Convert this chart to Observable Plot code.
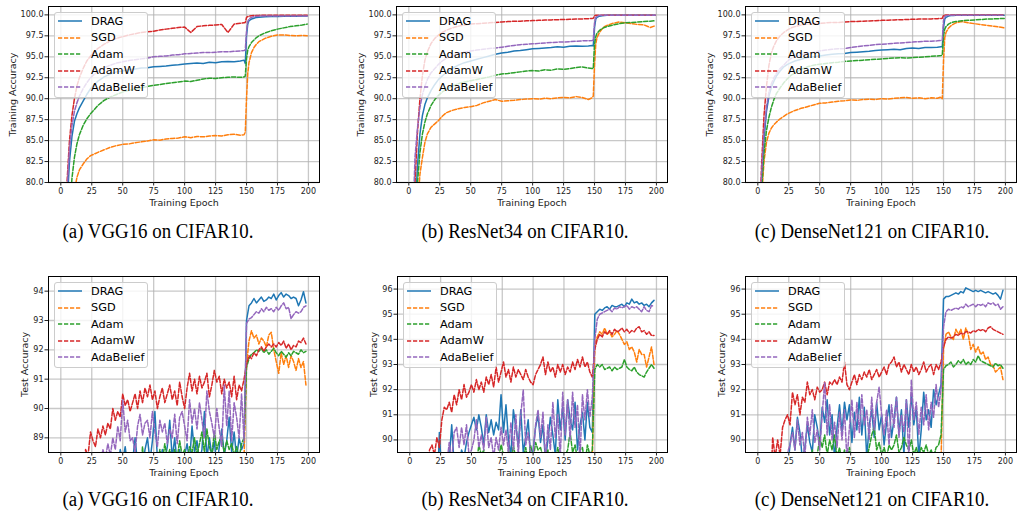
<!DOCTYPE html>
<html>
<head>
<meta charset="utf-8">
<script src="https://cdn.jsdelivr.net/npm/d3@7"></script>
<script src="https://cdn.jsdelivr.net/npm/@observablehq/plot@0.6"></script>
<style>
body{margin:0;background:#fff}
#root{position:relative;width:1026px;height:512px;overflow:hidden;background:#fff}
.panel{position:absolute;width:342px;height:210px}
.panel svg{display:block}
.legend{position:absolute;box-sizing:border-box;background:rgba(255,255,255,0.8);border:1px solid #cccccc;border-radius:3px;font-family:"DejaVu Sans";font-size:11.3px;color:#000}
.row{position:absolute;left:0;height:16px;display:flex;align-items:center;white-space:nowrap}
.row svg{margin-left:3px}
.row span{margin-left:9px}
.cap{position:absolute;width:420px;text-align:center;font-family:"Liberation Serif",serif;font-size:20.5px;line-height:22px;color:#000;white-space:nowrap;transform:scaleX(0.92);transform-origin:50% 50%}
</style>
</head>
<body>
<div id="root"></div>
<script>
// ---------- shared categories / ticks ----------
const seriesNames = ["DRAG", "SGD", "Adam", "AdamW", "AdaBelief"];
const xTicks = [0, 25, 50, 75, 100, 125, 150, 175, 200];
const trainYTicks = [80, 82.5, 85, 87.5, 90, 92.5, 95, 97.5, 100];
const vggTestYTicks = [89, 90, 91, 92, 93, 94];
const resTestYTicks = [90, 91, 92, 93, 94, 95, 96];
const captions = ["(a) VGG16 on CIFAR10.", "(b) ResNet34 on CIFAR10.", "(c) DenseNet121 on CIFAR10."];

const trainEpochs = [0,3,5,7,9,11,13,15, 18,21,24,27,30,
  35,40,45,50,55,60,65,70,75,80,85,90,95,100,105,110,115,120,125,130,135,140,145,
  148,149,150,151,152, 154,156,158,160, 165,170,175,180,185,190,195, 199];

const testEpochs = [10,12,14,16,18,20,22,24,26,28,
  30,32,34,36,38,40,42,44,46,48,
  50,52,54,56,58,60,62,64,66,68,
  70,72,74,76,78,80,82,84,86,88,
  90,92,94,96,98,100,102,104,106,108,
  110,112,114,116,118,120,122,124,126,128,
  130,132,134,136,138,140,142,144,146,148,
  150,152,154,156,158,160,162,164,166,168,
  170,172,174,176,178,180,182,184,186,188,
  190,192,194,196,198];

// ---------- VGG16 training accuracy ----------
const vggTrainDRAG = [60,70,77,82.5,85.5,87.3,88.2,88.9, 89.7,90.5,91.2,91.7,92.1,
  92.6,92.95,93.2,93.3,93.45,93.55,93.65,93.7,93.8,93.85,93.9,94.0,94.05,94.15,94.2,94.25,94.2,94.35,94.3,94.4,94.45,94.4,94.5,
  94.6,94.2,97.5,98.9,99.3, 99.5,99.6,99.7,99.72, 99.78,99.8,99.82,99.83,99.85,99.85,99.86, 99.86];
const vggTrainSGD = [50,60,67,72,76,79,80.6,81.5, 82.2,82.8,83.2,83.4,83.6,
  83.9,84.2,84.4,84.55,84.6,84.75,84.85,84.95,85.1,85.05,85.2,85.25,85.3,85.45,85.35,85.5,85.45,85.55,85.6,85.55,85.7,85.75,85.65,
  85.7,86.0,90.0,93.0,94.3, 95.5,96.1,96.5,96.8, 97.2,97.45,97.6,97.6,97.55,97.5,97.55, 97.5];
const vggTrainAdam = [55,65,71,76,80.5,83,84.6,85.7, 86.8,87.6,88.2,88.7,89.2,
  89.8,90.2,90.5,90.8,91.0,91.15,91.3,91.45,91.6,91.7,91.8,91.9,92.0,92.1,92.05,92.2,92.35,92.45,92.4,92.5,92.55,92.6,92.55,
  92.6,92.7,94.8,95.8,96.2, 96.7,97.0,97.3,97.5, 97.85,98.1,98.3,98.45,98.6,98.7,98.8, 98.9];
const vggTrainAdamW = [58,72,80,85,88,90,91.5,92.5, 93.6,94.5,95.1,95.6,96.0,
  96.5,96.9,97.2,97.4,97.6,97.75,97.9,98.0,98.05,98.2,98.3,98.4,98.5,98.55,97.9,98.6,98.7,98.75,98.8,98.85,97.9,98.9,99.0,
  99.05,99.1,99.7,99.8,99.85, 99.9,99.92,99.93,99.94, 99.95,99.95,99.95,99.95,99.95,99.95,99.95, 99.95];
const vggTrainAdaBelief = [58,70,79,84,86.8,88.5,89.5,90.3, 91.2,91.9,92.5,92.9,93.3,
  93.7,94.0,94.25,94.4,94.55,94.65,94.75,94.85,95.0,95.05,95.1,95.2,95.25,95.35,95.4,95.45,95.5,95.5,95.55,95.6,95.6,95.65,95.7,
  95.75,95.8,98.0,99.2,99.5, 99.7,99.8,99.83,99.85, 99.87,99.88,99.88,99.88,99.88,99.88,99.88, 99.88];

// ---------- ResNet34 training accuracy ----------
const resTrainDRAG = [55,68,76,82,85.8,88.0,89.3,90.1, 91.0,91.7,92.3,92.7,93.1,
  93.6,94.0,94.3,94.5,94.7,94.9,95.1,95.3,95.45,95.55,95.7,95.75,95.85,95.95,96.0,96.05,96.1,96.2,96.15,96.25,96.3,96.25,96.3,
  96.35,96.3,98.5,99.5,99.7, 99.85,99.9,99.93,99.95, 99.96,99.96,99.96,99.96,99.96,99.96,99.96, 99.96];
const resTrainSGD = [45,60,70,77,81,83,84.8,85.8, 86.6,87.0,87.4,87.9,88.3,
  88.6,88.8,88.95,89.05,89.2,89.5,89.7,89.9,89.7,89.75,89.8,89.9,89.95,90.0,89.95,90.05,90.0,90.1,90.15,90.1,90.25,90.15,89.9,
  90.1,90.3,94.0,96.5,97.3, 97.9,98.3,98.6,98.75, 99.0,99.15,99.05,98.95,98.85,98.8,98.5, 98.7];
const resTrainAdam = [50,65,74,80,83.6,85.8,87.2,88.2, 89.2,89.9,90.4,90.8,91.1,
  91.5,91.8,92.0,92.15,92.3,92.45,92.6,92.8,92.95,93.0,93.1,93.2,93.3,93.35,93.3,93.45,93.4,93.55,93.5,93.6,93.7,93.8,93.65,
  93.6,93.6,96.5,97.4,97.8, 98.15,98.35,98.5,98.6, 98.8,98.95,99.05,99.1,99.15,99.2,99.25, 99.3];
const resTrainAdamW = [60,75,80,86,90,92.8,94.6,95.6, 96.6,97.2,97.6,97.9,98.15,
  98.45,98.65,98.8,98.9,98.95,99.0,99.05,99.1,99.15,99.2,99.25,99.25,99.3,99.32,99.35,99.38,99.4,99.42,99.45,99.47,99.5,99.52,99.55,
  99.58,99.6,99.9,99.95,99.96, 99.97,99.97,99.97,99.97, 99.97,99.97,99.97,99.97,99.97,99.97,99.97, 99.97];
const resTrainAdaBelief = [58,74,83,86.5,89,90.5,91.5,92.3, 93.1,93.6,94.1,94.5,94.8,
  95.1,95.4,95.55,95.7,95.8,95.9,96.0,96.05,96.15,96.25,96.35,96.45,96.5,96.55,96.6,96.65,96.7,96.75,96.75,96.8,96.85,96.9,96.9,
  96.95,97.0,99.0,99.7,99.85, 99.93,99.95,99.96,99.96, 99.96,99.96,99.96,99.96,99.96,99.96,99.96, 99.96];

// ---------- DenseNet121 training accuracy ----------
const denseTrainDRAG = [65,80,85,88.5,90.3,91.4,92.1,92.7, 93.3,93.8,94.1,94.3,94.5,
  94.7,94.9,95.0,95.1,95.2,95.3,95.35,95.4,95.5,95.55,95.6,95.65,95.75,95.8,95.85,95.9,95.85,96.0,96.05,96.0,96.1,96.1,96.15,
  96.2,96.2,98.5,99.5,99.7, 99.85,99.92,99.94,99.95, 99.96,99.96,99.96,99.96,99.96,99.96,99.96, 99.96];
const denseTrainSGD = [60,78,82.5,84.8,85.9,86.5,86.9,87.2, 87.6,87.9,88.2,88.4,88.6,
  88.85,89.05,89.25,89.45,89.5,89.6,89.7,89.75,89.85,89.8,89.9,89.95,89.9,90.0,89.95,90.05,90.1,90.15,90.05,90.1,90.0,90.1,90.05,
  90.2,90.0,94.5,97.3,97.9, 98.4,98.7,98.9,99.05, 99.2,99.05,98.95,98.85,98.75,98.65,98.55, 98.45];
const denseTrainAdam = [62,79,83.5,86.2,87.8,89.0,89.9,90.6, 91.3,91.9,92.4,92.8,93.1,
  93.5,93.8,94.0,94.1,94.2,94.3,94.35,94.45,94.5,94.55,94.6,94.65,94.7,94.75,94.8,94.85,94.9,94.85,94.9,94.95,95.0,95.05,95.1,
  95.15,95.2,97.5,98.3,98.6, 98.9,99.05,99.15,99.2, 99.3,99.35,99.4,99.45,99.5,99.52,99.55, 99.58];
const denseTrainAdamW = [68,82,88,91.5,94.0,95.5,96.3,96.9, 97.5,97.9,98.2,98.45,98.6,
  98.8,98.9,98.95,99.0,99.05,99.1,99.1,99.15,99.2,99.22,99.25,99.28,99.3,99.35,99.37,99.4,99.42,99.45,99.47,99.5,99.5,99.52,99.55,
  99.57,99.6,99.95,99.97,99.98, 99.98,99.98,99.98,99.98, 99.98,99.98,99.98,99.98,99.98,99.98,99.98, 99.98];
const denseTrainAdaBelief = [66,81,86,89,90.8,91.8,92.5,93.0, 93.6,94.0,94.5,94.8,95.0,
  95.25,95.4,95.55,95.7,95.8,95.9,95.95,96.0,96.1,96.2,96.3,96.35,96.45,96.5,96.55,96.6,96.65,96.7,96.75,96.8,96.85,96.85,96.9,
  96.95,97.0,99.3,99.8,99.9, 99.95,99.96,99.97,99.97, 99.97,99.97,99.97,99.97,99.97,99.97,99.97, 99.97];

// ---------- VGG16 test accuracy ----------
const vggTestDRAG = [84,85,85.5,86,86.5,86.8,87,87.2,87.4,87.5,
  87.6,87.8,87.7,88.0,87.9,88.1,87.9,88.2,88.0,88.6,
  88.2,88.7,88.0,88.3,88.2,89.0,88.1,88.4,88.0,88.6,
  89.0,88.2,88.9,89.9,88.3,88.1,88.6,88.2,88.7,89.6,
  88.3,89.0,88.1,88.6,88.0,88.4,88.8,88.2,89.4,88.5,
  88.9,88.2,88.6,89.9,88.3,89.0,88.4,88.9,88.0,88.7,
  89.3,88.4,88.9,89.7,88.5,89.2,88.3,89.0,88.6,88.8,
  93.0,93.5,93.6,93.75,93.6,93.7,93.8,93.65,93.7,93.8,
  93.75,93.9,93.7,93.85,93.95,93.8,93.9,93.85,93.75,93.8,
  93.75,93.5,93.7,93.98,93.6];
const vggTestSGD = [78.5,79.4,80.1,80.9,81.5,82.0,82.6,82.9,83.4,83.6,
  84.0,84.3,84.1,84.6,84.9,84.7,85.1,85.3,85.0,85.4,
  85.6,85.3,85.8,85.9,85.6,86.1,86.0,86.3,85.9,86.4,
  86.2,86.5,86.7,86.4,86.8,86.6,87.0,86.8,87.1,86.9,
  87.2,87.0,87.4,87.1,87.3,87.5,87.2,87.6,87.4,87.7,
  87.5,87.8,87.6,87.9,87.7,88.0,87.8,88.1,87.9,88.0,
  88.2,87.9,88.1,88.3,88.0,88.2,88.3,88.1,88.2,88.3,
  91.5,92.3,92.65,92.4,92.5,92.2,92.4,92.3,92.1,92.5,
  92.6,92.0,91.6,91.2,91.9,91.5,91.8,91.4,91.8,91.6,
  91.3,91.7,91.4,91.6,90.8];
const vggTestAdam = [80,81,82,82.5,83,83.5,84,84.3,84.6,84.9,
  85.1,85.3,85.5,85.7,85.9,86.0,86.2,86.3,86.5,86.6,
  86.8,86.9,87.1,87.0,87.3,87.2,87.5,87.4,88.7,87.6,
  87.7,87.9,87.8,88.0,88.1,88.6,88.2,88.8,88.3,88.6,
  88.2,88.6,88.3,88.9,88.4,88.6,88.2,88.7,88.5,89.0,
  88.4,88.8,89.2,88.5,89.3,88.7,88.4,89.2,88.6,88.9,
  89.0,88.5,88.9,88.6,88.8,88.4,88.7,88.3,88.8,89.0,
  91.4,91.7,91.85,91.9,92.0,91.95,92.05,91.9,92.0,91.85,
  91.95,92.05,91.9,91.8,91.95,91.85,91.75,91.9,91.8,91.95,
  91.9,91.85,92.0,91.9,91.95];
const vggTestAdamW = [84.5,85.5,86.3,87.0,87.6,88.6,88.4,89.2,88.9,88.7,
  89.3,89.0,89.4,89.1,89.5,89.3,90.0,89.6,89.9,89.7,
  90.5,90.1,90.3,89.9,90.2,90.5,90.0,90.6,90.2,90.7,
  90.4,90.8,90.3,90.6,90.0,90.4,90.7,90.2,90.5,90.8,
  90.3,90.6,90.1,90.9,90.4,90.0,90.7,91.2,90.6,91.0,
  90.5,91.1,90.7,90.9,91.2,90.4,90.8,91.3,90.9,91.1,
  90.5,91.0,90.7,90.9,90.4,91.1,90.3,90.8,90.6,91.0,
  91.5,91.8,91.7,91.9,91.8,92.0,92.1,91.95,92.1,92.2,
  92.1,92.2,92.1,92.25,92.15,92.3,92.05,92.2,92.0,92.15,
  92.1,92.3,92.25,92.4,92.2];
const vggTestAdaBelief = [83,84,84.8,85.5,86.0,86.5,86.9,87.2,87.5,87.7,
  87.9,88.1,88.6,88.3,88.8,88.4,89.0,88.6,89.4,88.9,
  90.3,89.2,89.6,88.9,89.0,88.5,89.4,89.8,89.1,89.5,
  89.6,89.0,89.9,89.2,88.7,89.6,89.2,89.5,88.8,89.3,
  89.0,89.8,88.8,89.7,89.9,89.4,88.9,90.3,89.5,90.0,
  89.3,90.2,89.6,89.0,90.6,89.9,89.5,89.0,90.0,89.3,
  88.7,90.8,89.4,90.6,88.9,90.2,89.7,89.0,90.5,88.9,
  92.9,93.05,93.1,93.2,93.3,93.25,93.4,93.3,93.45,93.35,
  93.4,93.3,93.45,93.35,93.5,93.6,93.4,93.45,93.06,93.2,
  93.3,93.25,93.3,93.45,93.5];

// ---------- ResNet34 test accuracy ----------
const resTestDRAG = [80,82,83.5,84.5,85.5,86.5,87.5,90.3,88.5,89.0,
  88.8,89.2,90.6,89.0,89.4,88.9,89.6,89.3,89.9,90.3,
  90.6,90.9,90.4,91.0,90.5,89.8,91.0,90.3,90.8,90.2,
  90.7,90.4,91.8,90.3,91.4,90.0,89.4,91.2,90.5,89.8,
  91.2,89.5,90.1,90.8,89.3,89.6,90.5,91.0,89.9,90.6,
  89.2,90.0,90.9,90.2,89.4,91.6,90.4,91.3,90.0,91.6,
  90.8,90.4,91.5,89.6,90.6,91.1,90.0,91.5,90.5,90.3,
  95.0,95.1,95.2,95.15,95.25,95.3,95.2,95.35,95.3,95.3,
  95.35,95.4,95.3,95.45,95.4,95.6,95.45,95.5,95.4,95.45,
  95.35,95.4,95.3,95.45,95.55];
const resTestSGD = [79,80,81,82,82.8,83.5,84,84.6,85,85.3,
  85.7,86,86.2,86.5,86.7,86.9,87.1,87.0,87.3,87.5,
  87.6,87.4,87.8,87.9,87.7,88.0,88.1,87.9,88.2,88.3,
  88.1,88.4,88.3,88.5,88.4,88.6,88.5,88.7,88.6,88.8,
  88.7,88.9,88.6,88.8,89.0,88.8,88.9,89.1,88.9,89.0,
  89.1,88.9,89.2,89.0,89.1,89.3,89.0,89.2,89.1,89.3,
  89.2,89.0,89.3,89.1,89.2,89.0,89.3,89.2,89.1,89.3,
  93.8,94.1,94.3,94.2,94.45,94.2,94.3,94.1,94.2,94.35,
  94.2,94.0,93.8,93.9,93.6,93.7,93.5,93.1,93.6,93.4,
  93.4,92.9,93.3,93.7,93.0];
const resTestAdam = [80,81.5,82.5,83.5,84.3,85,85.6,86.1,86.5,86.9,
  87.2,87.5,87.8,88.0,88.2,88.4,88.6,88.8,88.7,89.0,
  88.9,89.2,89.0,89.8,89.4,89.6,89.1,89.3,89.0,89.2,
  88.8,89.3,89.8,89.4,89.1,89.6,89.0,89.8,89.2,89.4,
  89.0,89.3,89.7,89.1,89.8,89.2,89.9,89.6,89.7,89.3,
  89.4,89.6,89.0,89.5,89.2,89.7,89.3,89.1,89.4,89.6,
  90.3,89.5,89.8,89.2,89.6,89.7,89.0,89.8,89.4,89.6,
  92.8,93.0,92.9,93.0,92.8,92.85,92.9,92.75,92.9,92.8,
  92.85,92.9,93.2,92.9,92.8,92.75,92.9,92.7,92.6,92.55,
  92.5,92.7,92.85,93.0,92.85];
const resTestAdamW = [86,87.5,88.5,89.6,89.8,89.4,90.1,89.7,90.8,91.3,
  91.2,91.5,91.1,91.8,91.4,92.0,91.6,92.2,91.7,91.9,
  92.2,91.9,92.4,92.0,92.3,91.9,92.5,92.2,92.6,92.1,
  92.9,92.3,92.7,93.1,92.5,92.8,92.3,92.9,92.5,92.8,
  92.6,92.4,92.8,92.5,92.3,92.2,92.6,92.8,93.0,93.3,
  92.6,93.1,92.7,92.9,92.5,93.0,92.7,93.0,92.6,92.9,
  92.7,93.1,92.8,93.2,92.9,93.3,92.9,93.1,92.7,92.5,
  93.6,94.0,94.2,94.1,94.3,94.2,94.35,94.2,94.4,94.3,
  94.35,94.45,94.3,94.4,94.25,94.35,94.3,94.45,94.5,94.3,
  94.35,94.2,94.3,94.15,94.15];
const resTestAdaBelief = [82,83.5,84.5,85.5,86.3,87,87.6,88.1,88.5,88.8,
  89.0,89.9,89.2,90.3,90.5,89.7,90.5,89.8,90.6,89.4,
  89.6,90.0,90.8,89.7,90.2,89.6,90.9,89.7,90.1,89.3,
  90.1,89.6,90.5,89.8,90.4,89.5,90.7,89.6,91.0,89.4,
  91.0,92.0,89.8,90.3,89.5,89.4,90.6,91.2,90.1,91.1,
  89.2,90.6,89.6,91.5,90.1,91.0,89.3,91.9,90.2,91.6,
  90.0,91.9,90.5,91.4,89.2,91.8,90.8,92.0,90.9,91.7,
  94.0,94.8,95.0,95.05,95.1,95.15,95.2,95.1,95.25,95.2,
  95.3,95.25,95.3,95.35,95.2,95.3,95.25,95.3,95.2,95.1,
  95.3,95.15,95.1,95.35,95.3];

// ---------- DenseNet121 test accuracy ----------
const denseTestDRAG = [80,82,83.5,85,86.5,87.5,88.2,88.8,89.8,90.5,
  89.6,90.9,90.3,89.2,89.7,90.6,89.9,89.5,91.0,90.5,
  89.8,91.3,90.7,91.6,90.2,91.0,89.2,90.5,91.4,90.3,
  91.5,90.8,91.4,89.9,91.1,90.4,91.7,90.2,91.3,89.3,
  90.6,91.2,90.1,91.5,90.4,91.0,89.8,90.7,91.4,90.1,
  90.8,91.7,90.3,91.2,89.4,91.6,90.5,91.8,90.6,91.3,
  89.3,90.4,91.9,90.8,91.2,90.5,92.0,91.4,91.8,92.2,
  95.6,95.7,95.7,95.75,95.8,95.85,95.8,95.9,95.85,96.05,
  96.0,95.95,95.9,95.95,95.9,95.95,95.9,95.85,95.9,95.85,
  95.8,95.85,95.75,95.6,95.95];
const denseTestSGD = [79.5,80.5,81.5,82.4,83.2,83.9,84.5,85.0,85.4,85.8,
  86.1,86.4,86.6,86.9,87.1,87.3,87.5,87.4,87.7,87.9,
  88.0,87.8,88.2,88.3,88.1,88.4,88.5,88.3,88.6,88.7,
  88.5,88.8,88.7,88.9,88.8,89.0,88.9,89.1,89.0,89.2,
  89.1,88.9,89.2,89.0,89.3,89.1,89.2,89.0,89.3,89.2,
  89.0,89.3,89.1,89.2,89.3,89.1,89.0,89.2,89.3,89.1,
  89.2,89.3,89.0,89.2,89.1,89.3,89.2,89.0,89.3,89.2,
  93.6,94.2,94.3,94.1,94.0,94.4,94.2,94.4,94.0,94.45,
  94.2,93.6,93.8,93.5,93.7,93.4,93.5,93.2,93.3,93.0,
  92.95,92.7,92.8,92.9,92.4];
const denseTestAdam = [80,81.5,82.8,83.8,84.6,85.3,86.0,86.6,87.1,87.5,
  87.9,88.3,88.6,88.5,88.9,89.1,88.9,89.6,89.2,89.4,
  90.1,89.7,90.2,89.4,90.0,89.6,90.2,89.3,89.7,89.1,
  89.6,89.2,89.7,89.0,89.4,88.9,89.2,89.5,89.0,89.3,
  89.7,90.2,90.5,89.6,89.9,89.4,89.7,89.3,89.8,89.6,
  89.8,90.2,89.5,89.7,90.1,89.8,89.6,90.0,89.4,89.7,
  89.3,89.7,89.5,89.8,89.4,89.6,89.3,89.7,89.8,90.2,
  92.8,92.95,93.0,93.1,92.9,93.0,93.15,93.05,93.2,93.0,
  93.1,93.0,93.2,93.1,93.35,93.15,93.1,93.05,93.0,92.95,
  92.9,93.05,92.95,93.0,92.85];
const denseTestAdamW = [87.5,90.1,89.3,90.0,89.4,90.5,90.8,91.0,90.6,91.9,
  91.4,91.8,91.0,91.7,91.5,92.3,91.8,92.0,91.6,92.1,
  91.9,92.0,92.3,91.8,92.3,92.2,92.4,92.2,92.5,92.3,
  93.1,92.2,92.0,92.3,92.6,92.2,92.6,92.4,92.7,92.5,
  92.8,92.4,92.6,92.8,92.5,92.7,92.9,92.6,93.0,93.1,
  93.3,92.9,93.1,92.7,93.0,92.8,92.6,93.0,92.7,92.9,
  92.6,92.8,93.1,92.7,92.9,93.0,92.6,93.0,92.8,93.1,
  93.7,94.0,94.1,94.05,94.1,94.2,94.15,94.25,94.2,94.3,
  94.3,94.25,94.35,94.3,94.4,94.35,94.4,94.3,94.45,94.5,
  94.4,94.35,94.3,94.25,94.2];
const denseTestAdaBelief = [82,84,85.5,86.8,87.8,88.5,89.0,89.5,89.8,90.3,
  89.6,90.8,89.8,90.3,89.3,90.9,90.2,91.2,89.9,90.4,
  89.6,91.0,92.3,90.2,91.4,90.0,90.7,89.7,91.1,90.0,
  91.2,89.2,90.5,91.6,90.1,91.5,90.3,91.8,90.6,91.2,
  90.0,91.7,90.4,91.5,92.1,91.0,90.2,91.2,89.8,91.4,
  90.5,91.7,90.1,91.0,90.3,91.6,89.2,92.4,90.8,91.5,
  90.2,91.3,90.6,91.8,90.4,91.5,90.9,92.2,91.3,92.0,
  94.5,95.1,95.2,95.15,95.2,95.25,95.2,95.3,95.25,95.4,
  95.3,95.35,95.4,95.3,95.4,95.35,95.4,95.3,95.45,95.4,
  95.45,95.35,95.4,95.2,95.3];

// ---------- styling / layout ----------
const seriesColors = ["#1f77b4", "#ff7f0e", "#2ca02c", "#d62728", "#9467bd"];
const seriesDash = [null, "4.2,1.8", "4.2,1.8", "4.2,1.8", "4.2,1.8"];

const panels = [
  {left: 0, top: 0, mL: 48, mR: 23, epochs: trainEpochs,
   series: [vggTrainDRAG, vggTrainSGD, vggTrainAdam, vggTrainAdamW, vggTrainAdaBelief],
   yDomain: [80, 101], yTicks: trainYTicks, yFmt: d3.format(".1f"), yLabel: "Training Accuracy", yDx: -36},
  {left: 342, top: 0, mL: 54, mR: 17, epochs: trainEpochs,
   series: [resTrainDRAG, resTrainSGD, resTrainAdam, resTrainAdamW, resTrainAdaBelief],
   yDomain: [80, 101], yTicks: trainYTicks, yFmt: d3.format(".1f"), yLabel: "Training Accuracy", yDx: -36},
  {left: 684, top: 0, mL: 61, mR: 10, epochs: trainEpochs,
   series: [denseTrainDRAG, denseTrainSGD, denseTrainAdam, denseTrainAdamW, denseTrainAdaBelief],
   yDomain: [80, 101], yTicks: trainYTicks, yFmt: d3.format(".1f"), yLabel: "Training Accuracy", yDx: -36},
  {left: 0, top: 270, mL: 48, mR: 23, epochs: testEpochs,
   series: [vggTestDRAG, vggTestSGD, vggTestAdam, vggTestAdamW, vggTestAdaBelief],
   yDomain: [88.5, 94.5], yTicks: vggTestYTicks, yFmt: d3.format("d"), yLabel: "Test Accuracy", yDx: -23.5},
  {left: 342, top: 270, mL: 55, mR: 17, epochs: testEpochs,
   series: [resTestDRAG, resTestSGD, resTestAdam, resTestAdamW, resTestAdaBelief],
   yDomain: [89.5, 96.5], yTicks: resTestYTicks, yFmt: d3.format("d"), yLabel: "Test Accuracy", yDx: -23.5},
  {left: 684, top: 270, mL: 61, mR: 10, epochs: testEpochs,
   series: [denseTestDRAG, denseTestSGD, denseTestAdam, denseTestAdamW, denseTestAdaBelief],
   yDomain: [89.5, 96.5], yTicks: resTestYTicks, yFmt: d3.format("d"), yLabel: "Test Accuracy", yDx: -23.5}
];

const W = 342, H = 210, MT = 6, MB = 28;

function makePlot(p) {
  const lines = p.series.map((vals, i) =>
    Plot.line(vals.map((v, j) => ({epoch: p.epochs[j], acc: v})), {
      x: "epoch", y: "acc", stroke: seriesColors[i], strokeWidth: 1.5,
      strokeDasharray: seriesDash[i] || undefined, clip: true
    }));
  return Plot.plot({
    width: W, height: H, marginLeft: p.mL, marginRight: p.mR, marginTop: MT, marginBottom: MB,
    style: {fontFamily: "DejaVu Sans", background: "transparent", overflow: "visible"},
    x: {domain: [-9.95, 208.95]},
    y: {domain: p.yDomain},
    marks: [
      Plot.gridX(xTicks, {stroke: "#b0b0b0", strokeOpacity: 0.7, strokeWidth: 1.3}),
      Plot.gridY(p.yTicks, {stroke: "#b0b0b0", strokeOpacity: 0.7, strokeWidth: 1.3}),
      ...lines,
      Plot.frame({stroke: "#000", strokeWidth: 1}),
      Plot.axisX(xTicks, {tickSize: 3.5, tickPadding: 2, fontSize: 8, label: null, color: "#222"}),
      Plot.axisY(p.yTicks, {tickFormat: p.yFmt, tickSize: 3.5, tickPadding: 1.5, fontSize: 8, label: null, color: "#222"}),
      Plot.text(["Training Epoch"], {text: d => d, frameAnchor: "bottom", dy: 20, lineAnchor: "middle", fontSize: 9.5, fill: "#222"}),
      Plot.text([p.yLabel], {text: d => d, frameAnchor: "left", dx: p.yDx, rotate: -90, textAnchor: "middle", lineAnchor: "middle", fontSize: 9.5, fill: "#222"})
    ]
  });
}

function makeLegend(p) {
  const box = document.createElement("div");
  box.className = "legend";
  box.style.left = (p.mL + 6) + "px";
  box.style.top = (MT + 6) + "px";
  box.style.width = "94px";
  box.style.height = "86px";
  seriesNames.forEach((name, i) => {
    const row = document.createElement("div");
    row.className = "row";
    row.style.top = (i * 16.6) + "px";
    const dash = seriesDash[i] ? `stroke-dasharray="${seriesDash[i]}"` : "";
    row.innerHTML = `<svg width="24" height="6"><line x1="0" y1="3" x2="24" y2="3" stroke="${seriesColors[i]}" stroke-width="1.5" ${dash}/></svg><span>${name}</span>`;
    box.appendChild(row);
  });
  return box;
}

const root = document.getElementById("root");
panels.forEach(p => {
  const div = document.createElement("div");
  div.className = "panel";
  div.style.left = p.left + "px";
  div.style.top = p.top + "px";
  div.appendChild(makePlot(p));
  div.appendChild(makeLegend(p));
  root.appendChild(div);
});

const capCenters = [158, 525, 872];
[220, 488].forEach(top => {
  captions.forEach((c, i) => {
    const d = document.createElement("div");
    d.className = "cap";
    d.style.left = (capCenters[i] - 210) + "px";
    d.style.top = top + "px";
    d.textContent = c;
    root.appendChild(d);
  });
});
</script>
</body>
</html>
